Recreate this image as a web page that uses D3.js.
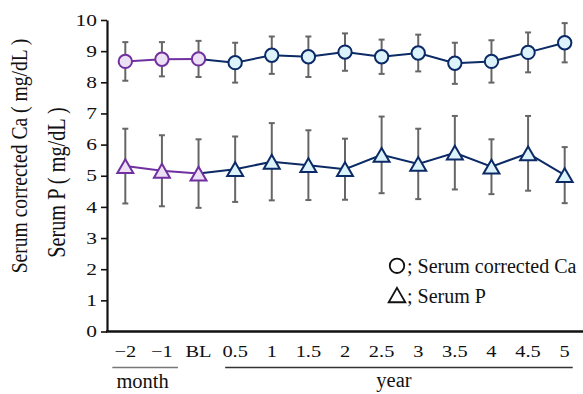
<!DOCTYPE html>
<html>
<head>
<meta charset="utf-8">
<script src="https://cdn.jsdelivr.net/npm/d3@7"></script>
<style>
  body { margin: 0; background: #fff; }
  text { font-family: "Liberation Serif", "Times New Roman", serif; fill: #111; }
</style>
</head>
<body>
<div id="chart"></div>
<script>
// time points (first three are the pre-period, in months)
const labels = ["\u22122", "\u22121", "BL", "0.5", "1", "1.5", "2", "2.5", "3", "3.5", "4", "4.5", "5"];
const preCount = 3;

// serum corrected Ca, mean and SD
const caMean = [8.67, 8.74, 8.75, 8.63, 8.87, 8.82, 8.97, 8.82, 8.94, 8.61, 8.67, 8.96, 9.27];
const caSd   = [0.62, 0.55, 0.58, 0.64, 0.60, 0.65, 0.60, 0.55, 0.59, 0.66, 0.68, 0.64, 0.63];

// serum P, mean and SD
const pMean = [5.31, 5.16, 5.07, 5.21, 5.45, 5.34, 5.21, 5.67, 5.38, 5.74, 5.29, 5.72, 5.02];
const pSd   = [1.20, 1.14, 1.10, 1.05, 1.24, 1.12, 0.98, 1.23, 1.13, 1.18, 0.88, 1.20, 0.90];

const yTicks = [0, 1, 2, 3, 4, 5, 6, 7, 8, 9, 10];

const width = 583, height = 394;
const plotLeft = 107, plotRight = 583, plotTop = 20, plotBottom = 331.5;
const stretch = 1.3; // tick text in the source is drawn wide

const purple = "#7030a0", purpleFill = "#ece0f4";
const navy = "#0b2a66", navyFill = "#dcf3fc";
const barColor = "#666";

// triangle centred on its bounding box (like spreadsheet markers)
const triangleBox = {
  draw(context, size) {
    const a = Math.sqrt(size * 4 / Math.sqrt(3));
    const h = a * Math.sqrt(3) / 2;
    context.moveTo(0, -h / 2);
    context.lineTo(a / 2, h / 2);
    context.lineTo(-a / 2, h / 2);
    context.closePath();
  }
};

const svg = d3.select("#chart").append("svg")
  .attr("width", width)
  .attr("height", height);

const x = d3.scalePoint()
  .domain(labels)
  .range([plotLeft, plotRight])
  .padding(0.5);

const y = d3.scaleLinear()
  .domain([0, 10])
  .range([plotBottom, plotTop]);

// y axis
const yAxis = d3.axisLeft(y).tickValues(yTicks).tickSize(6).tickSizeOuter(0).tickFormat("");
const gy = svg.append("g")
  .attr("transform", `translate(${plotLeft},0)`)
  .call(yAxis);
gy.select(".domain").attr("stroke", "#111").attr("stroke-width", 2.2);
gy.selectAll(".tick line").attr("stroke", "#111").attr("stroke-width", 1.6);

svg.append("g").selectAll("text")
  .data(yTicks)
  .join("text")
  .attr("transform", (d) => `translate(97,${y(d)}) scale(${stretch},1)`)
  .attr("dy", "0.34em")
  .attr("text-anchor", "end")
  .attr("font-size", 16.5)
  .text((d) => d);

// x axis line (no ticks)
svg.append("line")
  .attr("x1", plotLeft - 1).attr("x2", plotRight)
  .attr("y1", plotBottom).attr("y2", plotBottom)
  .attr("stroke", "#111").attr("stroke-width", 2.5);

svg.append("g").selectAll("text")
  .data(labels)
  .join("text")
  .attr("transform", (d) => `translate(${x(d)},357) scale(${stretch - 0.1},1)`)
  .attr("text-anchor", "middle")
  .attr("font-size", 17)
  .text((d) => d);

// period brackets
const monthLabels = labels.slice(0, 2);
const yearLabels = labels.slice(3);
svg.append("line")
  .attr("x1", x(monthLabels[0]) - 13).attr("x2", x(monthLabels[1]) + 16)
  .attr("y1", 367.5).attr("y2", 367.5)
  .attr("stroke", "#777").attr("stroke-width", 1.6);
svg.append("line")
  .attr("x1", x(yearLabels[0]) - 10).attr("x2", x(yearLabels[yearLabels.length - 1]) + 8)
  .attr("y1", 367.5).attr("y2", 367.5)
  .attr("stroke", "#333").attr("stroke-width", 1.3);
svg.append("text")
  .attr("x", (x(monthLabels[0]) + x(monthLabels[1])) / 2 - 1)
  .attr("y", 388)
  .attr("text-anchor", "middle")
  .attr("font-size", 20.5)
  .text("month");
svg.append("text")
  .attr("x", (x(yearLabels[0]) + x(yearLabels[yearLabels.length - 1])) / 2 - 6)
  .attr("y", 387)
  .attr("text-anchor", "middle")
  .attr("font-size", 20.5)
  .text("year");

// y axis titles
svg.append("text")
  .attr("transform", "translate(27,156) scale(1.2,1) rotate(-90)")
  .attr("text-anchor", "middle")
  .attr("font-size", 19.6)
  .text("Serum corrected Ca ( mg/dL )");
svg.append("text")
  .attr("transform", "translate(65,182.5) scale(1.2,1) rotate(-90)")
  .attr("text-anchor", "middle")
  .attr("font-size", 20.3)
  .text("Serum P ( mg/dL )");

const series = [
  { mean: caMean, sd: caSd, shape: d3.symbolCircle, size: 140 },
  { mean: pMean, sd: pSd, shape: triangleBox, size: 110 }
];

series.forEach((s) => {
  const pts = labels.map((l, i) => ({ label: l, i: i, v: s.mean[i], sd: s.sd[i] }));

  // error bars
  const eb = svg.append("g").selectAll("g")
    .data(pts)
    .join("g")
    .attr("stroke", barColor)
    .attr("stroke-width", 2);
  eb.append("line")
    .attr("x1", (d) => x(d.label)).attr("x2", (d) => x(d.label))
    .attr("y1", (d) => y(d.v + d.sd)).attr("y2", (d) => y(d.v - d.sd));
  eb.append("line")
    .attr("x1", (d) => x(d.label) - 3).attr("x2", (d) => x(d.label) + 3)
    .attr("y1", (d) => y(d.v + d.sd)).attr("y2", (d) => y(d.v + d.sd));
  eb.append("line")
    .attr("x1", (d) => x(d.label) - 3).attr("x2", (d) => x(d.label) + 3)
    .attr("y1", (d) => y(d.v - d.sd)).attr("y2", (d) => y(d.v - d.sd));

  const line = d3.line().x((d) => x(d.label)).y((d) => y(d.v));
  svg.append("path")
    .attr("d", line(pts.slice(0, preCount)))
    .attr("fill", "none").attr("stroke", purple).attr("stroke-width", 2);
  svg.append("path")
    .attr("d", line(pts.slice(preCount - 1)))
    .attr("fill", "none").attr("stroke", navy).attr("stroke-width", 2);

  svg.append("g").selectAll("path")
    .data(pts)
    .join("path")
    .attr("transform", (d) => `translate(${x(d.label)},${y(d.v)})`)
    .attr("d", d3.symbol().type(s.shape).size(s.size))
    .attr("fill", (d) => d.i < preCount ? purpleFill : navyFill)
    .attr("stroke", (d) => d.i < preCount ? purple : navy)
    .attr("stroke-width", 2);
});

// legend
const legend = [
  { shape: d3.symbolCircle, size: 165, text: "; Serum corrected Ca", yv: 2.11, dy: 7 },
  { shape: triangleBox, size: 120, text: "; Serum P", yv: 1.17, dy: 8 }
];
const lg = svg.append("g").selectAll("g")
  .data(legend)
  .join("g")
  .attr("transform", (d) => `translate(397,${y(d.yv)})`);
lg.append("path")
  .attr("d", (d) => d3.symbol().type(d.shape).size(d.size)())
  .attr("fill", "none")
  .attr("stroke", "#111")
  .attr("stroke-width", 1.8);
lg.append("text")
  .attr("x", 10)
  .attr("y", (d) => d.dy)
  .attr("font-size", 20)
  .text((d) => d.text);
</script>
</body>
</html>
